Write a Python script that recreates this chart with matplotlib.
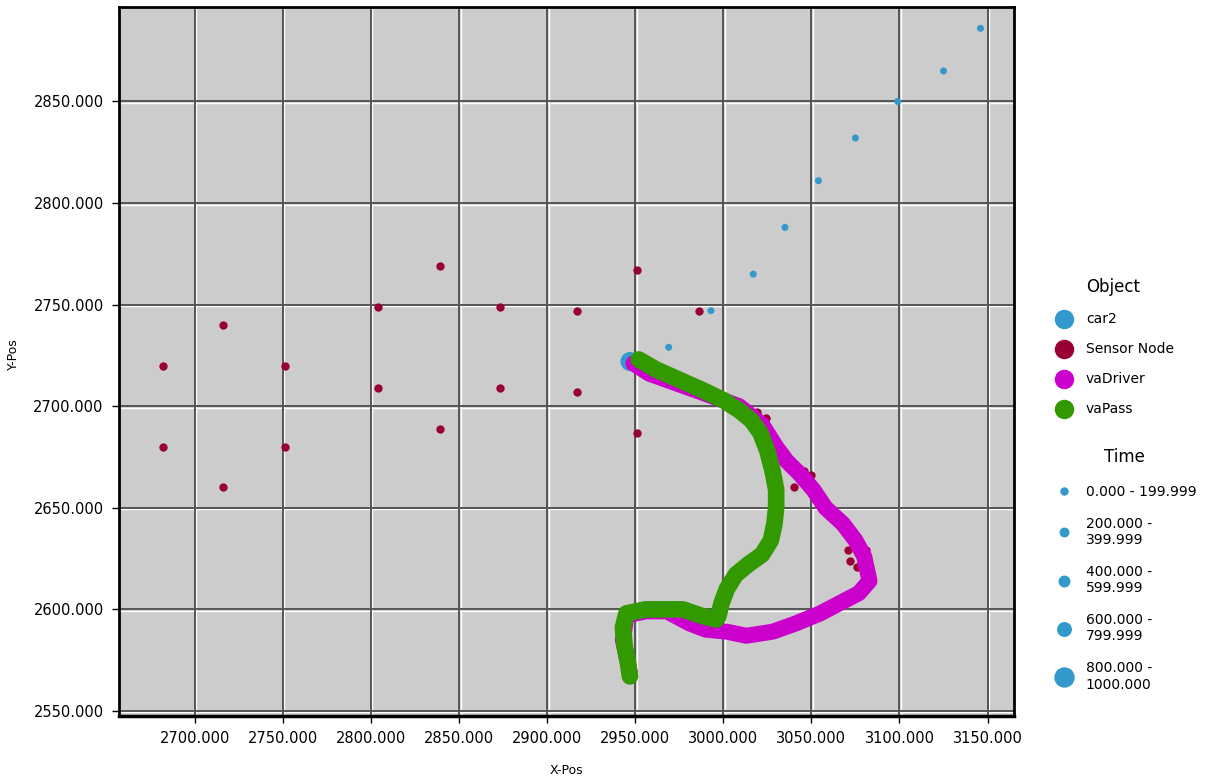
import matplotlib
matplotlib.use("Agg")
import numpy as np
import matplotlib.pyplot as plt
from matplotlib.lines import Line2D
from matplotlib import transforms

plt.rcParams["font.family"] = "DejaVu Sans"

# sensor nodes (x, y)
sensor_x = [2682, 2682, 2716, 2716, 2751, 2751, 2804, 2804, 2839, 2839,
            2873, 2873, 2917, 2917, 2951, 2951, 2986, 2987, 3016, 3019,
            3024, 3024, 3040, 3046, 3050, 3050, 3071, 3072, 3076, 3081]
sensor_y = [2720, 2680, 2740, 2660, 2720, 2680, 2749, 2709, 2769, 2689,
            2749, 2709, 2747, 2707, 2767, 2687, 2747, 2708, 2695, 2697,
            2694, 2690, 2660, 2668, 2666, 2661, 2629, 2624, 2621, 2629]

# car2 track with time stamps
car_x = [3146, 3125, 3099, 3075, 3054, 3035, 3017, 2993, 2969, 2947]
car_y = [2886, 2865, 2850, 2832, 2811, 2788, 2765, 2747, 2729, 2722]
car_t = [10, 30, 50, 70, 90, 110, 130, 150, 170, 900]

# vaDriver track
drv_x = [2949, 2958, 2987, 3009, 3022, 3030, 3036, 3043, 3051, 3058, 3068, 3075,
         3080, 3083, 3077, 3066, 3055, 3041, 3028, 3013, 3002, 2990, 2981, 2968,
         2956, 2945, 2943, 2947]
drv_y = [2721, 2716, 2707, 2700, 2691, 2680, 2673, 2667, 2659, 2650, 2642, 2634,
         2626, 2614, 2608, 2603, 2598, 2593, 2589, 2587, 2589, 2590, 2593, 2599,
         2599, 2597, 2585, 2569]

# vaPass track
pas_x = [2952, 2962, 2975, 2988, 3000, 3009, 3016, 3021, 3025, 3028, 3030, 3030,
         3029, 3027, 3022, 3014, 3007, 3002, 2999, 2997, 2996, 2987, 2977, 2968,
         2956, 2945, 2943, 2944, 2946, 2947]
pas_y = [2723, 2718, 2713, 2708, 2703, 2698, 2693, 2687, 2678, 2668, 2659, 2650,
         2642, 2634, 2627, 2622, 2617, 2610, 2603, 2596, 2595, 2597, 2600, 2600,
         2600, 2598, 2591, 2582, 2573, 2567]

time_bins = [0, 200, 400, 600, 800, 1000.001]
time_labels = ["0.000 - 199.999", "200.000 -\n399.999", "400.000 -\n599.999",
               "600.000 -\n799.999", "800.000 -\n1000.000"]
bin_px = [7, 8.5, 10.5, 13.5, 19]

c_car = "#3399cc"
c_sensor = "#990033"
c_drv = "#cc00cc"
c_pas = "#339900"

fig = plt.figure(figsize=(12.18, 7.8), dpi=100)
ax = fig.add_axes([119 / 1218, 1 - 716 / 780, 895 / 1218, 709 / 780])
ax.set_facecolor("#cccccc")

ax.set_xlim(2657, 3165)
ax.set_ylim(2547.5, 2896.5)
xt = np.arange(2700, 3151, 50)
yt = np.arange(2550, 2851, 50)
ax.set_xticks(xt)
ax.set_yticks(yt)
ax.set_xticklabels(["%.3f" % v for v in xt])
ax.set_yticklabels(["%.3f" % v for v in yt])

# grid: dark line with white highlight beside it
dx = transforms.ScaledTranslation(1.5 / 100, 0, fig.dpi_scale_trans)
dy = transforms.ScaledTranslation(0, -1.5 / 100, fig.dpi_scale_trans)
for v in xt:
    ax.plot([v, v], [0, 1], transform=ax.get_xaxis_transform() + dx,
            color="white", lw=1, zorder=0.5)
    ax.plot([v, v], [0, 1], transform=ax.get_xaxis_transform(),
            color="#555555", lw=1.4, zorder=0.6)
for v in yt:
    ax.plot([0, 1], [v, v], transform=ax.get_yaxis_transform() + dy,
            color="white", lw=1, zorder=0.5)
    ax.plot([0, 1], [v, v], transform=ax.get_yaxis_transform(),
            color="#555555", lw=1.4, zorder=0.6)

ax.scatter(sensor_x, sensor_y, s=36, color=c_sensor, zorder=2, linewidths=0)

idx = np.digitize(car_t, time_bins) - 1
car_s = [(bin_px[i] * 0.72) ** 2 for i in idx]
ax.scatter(car_x, car_y, s=car_s, color=c_car, zorder=3, linewidths=0)

ax.plot(drv_x, drv_y, color=c_drv, lw=11.5, solid_capstyle="round",
        solid_joinstyle="round", zorder=4)
ax.plot(pas_x, pas_y, color=c_pas, lw=12, solid_capstyle="round",
        solid_joinstyle="round", zorder=5)

for s in ax.spines.values():
    s.set_linewidth(2)
ax.spines["bottom"].set_linewidth(2.5)
ax.tick_params(direction="out", length=5, width=1, labelsize=10.5, pad=6)

ax.set_xlabel("X-Pos", fontsize=9)
ax.set_ylabel("Y-Pos", fontsize=9)
ax.xaxis.set_label_coords(0.5, -0.068)
ax.yaxis.set_label_coords(-0.111, 0.51)

obj_handles = [Line2D([], [], ls="", marker="o", markersize=13, color=c)
               for c in [c_car, c_sensor, c_drv, c_pas]]
leg1 = fig.legend(obj_handles, ["car2", "Sensor Node", "vaDriver", "vaPass"],
                  loc="upper left", bbox_to_anchor=(1040 / 1218, 1 - 266 / 780),
                  frameon=False, title="Object", title_fontsize=12, fontsize=10,
                  labelspacing=1.15, handletextpad=0.8, handlelength=1.6)

time_handles = [Line2D([], [], ls="", marker="o", markersize=p * 0.72, color=c_car)
                for p in bin_px]
leg2 = fig.legend(time_handles, time_labels,
                  loc="upper left", bbox_to_anchor=(1040 / 1218, 1 - 436 / 780),
                  frameon=False, title="Time", title_fontsize=12, fontsize=10,
                  labelspacing=1.3, handletextpad=0.8, handlelength=1.6)

fig.savefig("out.png", dpi=100)
